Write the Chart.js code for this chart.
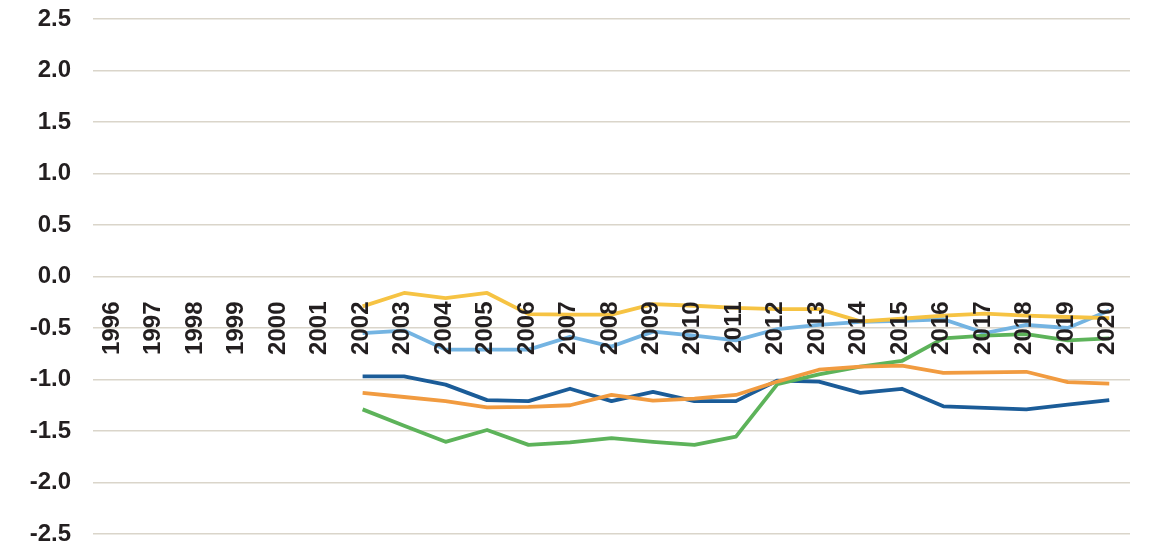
<!DOCTYPE html>
<html>
<head>
<meta charset="utf-8">
<script src="https://cdn.jsdelivr.net/npm/chart.js@4.4.1/dist/chart.umd.min.js"></script>
<style>
  html, body { margin: 0; padding: 0; background: #ffffff; }
  #wrap { width: 1154px; height: 550px; position: relative; }
</style>
</head>
<body>
<div id="wrap"><canvas id="chart" width="1154" height="550"></canvas></div>
<script>
// Years on the category axis
const years = ['1996','1997','1998','1999','2000','2001','2002','2003','2004','2005','2006',
  '2007','2008','2009','2010','2011','2012','2013','2014','2015','2016','2017','2018','2019','2020'];

// Value-axis ticks
const yTicks = [2.5, 2.0, 1.5, 1.0, 0.5, 0.0, -0.5, -1.0, -1.5, -2.0, -2.5];

// Series values, 1996-2001 have no data
const gap = [null, null, null, null, null, null];
const seriesDarkBlue = gap.concat([-0.97, -0.97, -1.05, -1.20, -1.21, -1.09, -1.21, -1.12, -1.21, -1.21,
  -1.01, -1.02, -1.13, -1.09, -1.26, -1.275, -1.29, -1.245, -1.20]);
const seriesLightBlue = gap.concat([-0.55, -0.525, -0.71, -0.71, -0.71, -0.585, -0.68, -0.535, -0.575, -0.62,
  -0.51, -0.47, -0.44, -0.43, -0.415, -0.55, -0.47, -0.50, -0.33]);
const seriesGreen = gap.concat([-1.29, -1.45, -1.605, -1.49, -1.635, -1.61, -1.57, -1.605, -1.635, -1.555,
  -1.045, -0.95, -0.875, -0.82, -0.60, -0.575, -0.56, -0.62, -0.60]);
const seriesOrange = gap.concat([-1.13, -1.17, -1.21, -1.27, -1.265, -1.25, -1.15, -1.205, -1.185, -1.15,
  -1.02, -0.905, -0.875, -0.865, -0.935, -0.93, -0.925, -1.025, -1.04]);
const seriesYellow = gap.concat([-0.29, -0.16, -0.21, -0.16, -0.365, -0.37, -0.37, -0.268, -0.284, -0.305,
  -0.317, -0.317, -0.435, -0.41, -0.38, -0.36, -0.38, -0.393, -0.404]);

const FONT = '"Liberation Sans", Arial, sans-serif';
const TEXT = '#231f20';

// Year labels sit just under the zero line, rotated
const yearLabels = {
  id: 'yearLabels',
  afterDatasetsDraw(chart) {
    const xs = chart.scales.x, ys = chart.scales.y, ctx = chart.ctx;
    const y0 = ys.getPixelForValue(0) + 25;
    ctx.save();
    ctx.fillStyle = TEXT;
    ctx.font = 'bold 24px ' + FONT;
    ctx.textAlign = 'right';
    ctx.textBaseline = 'alphabetic';
    years.forEach((lab, i) => {
      const x = xs.getPixelForTick(i) + 5;
      ctx.save();
      ctx.translate(x, y0);
      ctx.rotate(-Math.PI / 2);
      ctx.fillText(lab, 0, 0);
      ctx.restore();
    });
    ctx.restore();
  }
};

function line(data, color, order) {
  return {
    data: data,
    borderColor: color,
    backgroundColor: color,
    borderWidth: 3.8,
    pointRadius: 0,
    pointHoverRadius: 0,
    tension: 0,
    fill: false,
    spanGaps: false,
    borderCapStyle: 'butt',
    borderJoinStyle: 'round',
    order: order
  };
}

new Chart(document.getElementById('chart'), {
  type: 'line',
  data: {
    labels: years,
    datasets: [
      line(seriesDarkBlue, '#1b5c98', 5),
      line(seriesLightBlue, '#74b4e2', 4),
      line(seriesGreen, '#5db35a', 3),
      line(seriesOrange, '#f19b40', 2),
      line(seriesYellow, '#f6c343', 1)
    ]
  },
  options: {
    responsive: false,
    animation: false,
    events: [],
    layout: { padding: { left: 0, right: 24, top: 19, bottom: 16 } },
    plugins: { legend: { display: false }, tooltip: { enabled: false } },
    scales: {
      x: {
        type: 'category',
        offset: true,
        display: false
      },
      y: {
        min: -2.5,
        max: 2.5,
        afterBuildTicks(scale) {
          scale.ticks = yTicks.map(v => ({ value: v }));
        },
        afterFit(scale) { scale.width = 93; },
        border: { display: false },
        grid: {
          color: '#dad5ca',
          lineWidth: 1.4,
          drawTicks: true,
          tickLength: 22,
          tickColor: 'rgba(0,0,0,0)'
        },
        ticks: {
          padding: 0,
          color: TEXT,
          font: { family: FONT, size: 24, weight: 'bold' },
          callback: v => Number(v).toFixed(1)
        }
      }
    }
  },
  plugins: [yearLabels]
});
</script>
</body>
</html>
